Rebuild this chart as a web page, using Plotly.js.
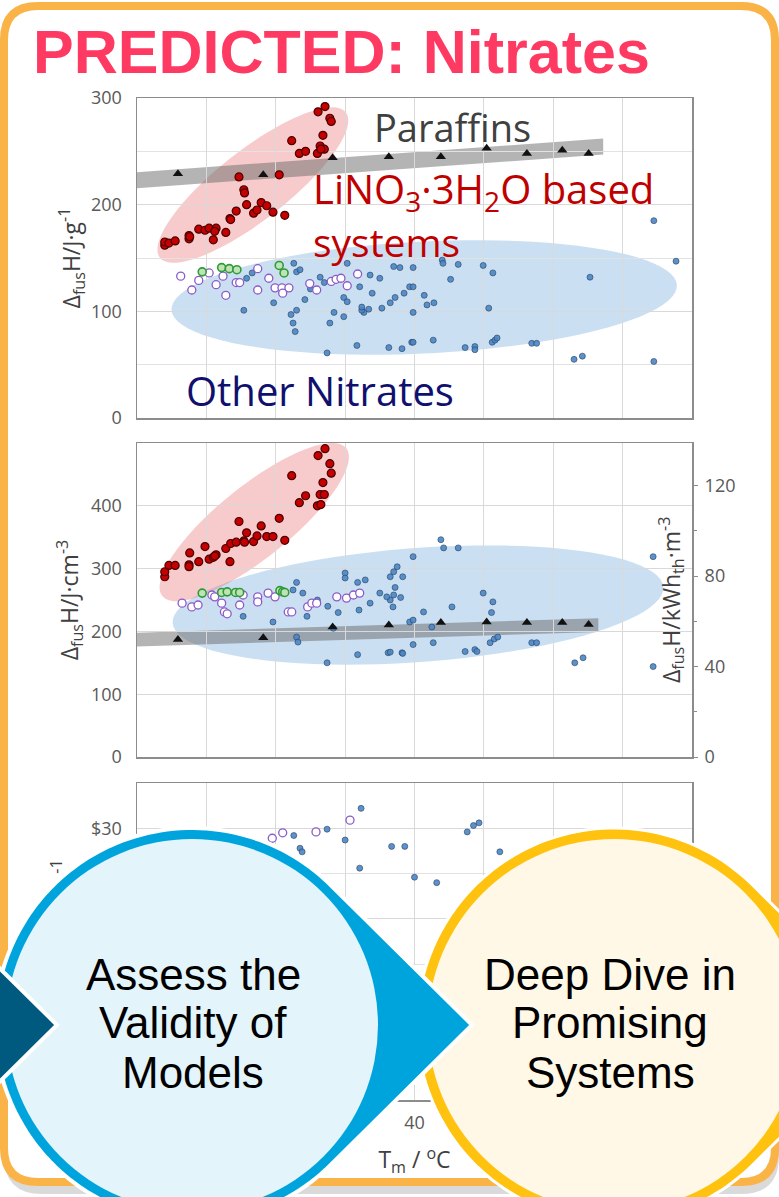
<!DOCTYPE html>
<html>
<head>
<meta charset="utf-8">
<script src="https://cdn.plot.ly/plotly-3.0.1.min.js"></script>
<style>
html,body{margin:0;padding:0;background:#fff;}
#wrap{position:relative;width:779px;height:1197px;overflow:hidden;}
#chart,#overlay{position:absolute;left:0;top:0;width:779px;height:1197px;}
#overlay{pointer-events:none;}
</style>
</head>
<body>
<div id="wrap"><div id="chart"></div><div id="overlay"></div></div>
<script>
// ---------------- DATA ----------------
// Paraffins (n-alkanes), melting temperature / enthalpy
const paraffinT  = [5.9, 18.2, 28.2, 36.3, 43.8, 50.4, 56.2, 61.3, 65.1];
const paraffinHg = [229, 228, 244, 245, 245, 253, 248, 251, 248];      // J/g
const paraffinHv = [187, 190, 207, 210, 214, 215, 214, 214, 211];      // J/cm3

// LiNO3·3H2O based systems
const liT  = [4.0,4.0,4.6,5.5,7.5,7.5,7.6,8.9,9.8,10.4,11.0,11.4,11.2,12.8,13.4,13.5,14.3,14.7,15.4,15.5,15.8,16.8,17.3,17.9,18.7,19.6,20.5,21.3,22.3,23.4,24.3,26.0,26.4,26.8,27.0,26.1,27.1,27.8,28.0,26.5];
const liHg = [162,165,164,166,168,171,170,177,176,178,167,178,175,174,187,186,194,226,214,211,200,192,195,202,199,193,228,190,260,248,250,248,255,265,252,287,292,281,278,252];
const liHv = [287,295,305,305,306,303,325,311,335,315,318,322,320,332,311,340,342,375,344,342,357,343,352,368,351,351,380,345,448,405,416,400,418,437,418,480,491,467,452,402];

// Other nitrates (open purple circles)
const purpleT1 = [6.3,8.9,7.9,10.4,11.4,12.4,12.8,14.3,14.8,17.4,17.4,19.0,19.9,20.9,21.9,21.0,24.9,25.9,28.0,28.7,29.4,30.3,31.8];
const purpleHg = [133,129,120,136,125,133,115,127,127,140,120,131,122,122,122,117,126,120,128,130,131,124,135];
const purpleT2 = [6.5,7.9,8.8,10.8,11.2,12.2,12.6,13.0,14.8,15.3,17.4,17.4,18.9,19.9,21.8,22.3,24.6,25.2,25.9,28.8,30.2,31.2,32.1];
const purpleHv = [245,239,242,258,255,245,231,228,242,258,255,247,261,255,231,231,239,245,245,255,253,258,261];

// Other nitrates (open green circles)
const greenT1 = [9.4,12.2,13.3,14.4,20.5,21.2];
const greenHg = [137,141,140,139,143,136];
const greenT2 = [9.4,12.2,13.0,14.2,14.8,20.6,21.0,21.3];
const greenHv = [261,262,263,262,262,265,263,262];

// Other nitrates (blue dots)
const otherT1 = [15.4,19.7,22.2,22.5,22.8,23.0,24.2,27.8,28.4,29.8,29.8,30.3,27.4,31.7,32.7,33.4,33.9,35.3,36.3,38.2,36.5,37.2,38.5,39.3,39.6,22.6,23.0,30.3,33.6,35.0,37.0,37.9,16.6,15.8,39.8,44.0,44.1,46.3,49.9,51.3,45.2,39.8,41.4,41.8,42.8,39.8,50.7,39.8,42.7,47.3,48.7,48.7,51.2,51.6,51.9,56.9,57.6,65.3,63.0,64.2,74.5,77.7,74.5,23.5,26.4,32.1,27.0,25.0,32.4,32.4];
const otherHg = [101,108,97,89,81,101,111,89,99,95,113,109,61,68,99,102,117,103,66,65,108,113,117,123,71,145,137,145,134,131,142,141,136,131,141,148,145,144,143,136,130,123,115,106,108,99,103,71,73,66,67,64,71,73,75,70,70,132,55,58,53,147,185,139,132,123,127,121,101,104];
const otherT2 = [15.3,19.6,24.5,23.0,23.2,27.4,31.8,36.2,38.2,30.0,30.0,31.8,32.9,36.5,37.5,38.3,32.0,33.6,36.9,36.5,35.0,36.0,28.3,39.8,43.8,44.2,46.3,49.9,37.0,37.2,37.0,38.0,41.3,45.4,51.3,51.1,39.3,39.8,42.5,36.5,38.3,39.8,42.7,47.3,48.7,49.0,50.9,51.5,52.0,56.9,57.6,63.1,64.3,74.4,74.4,22.5,23.9,23.0,26.0,27.5,29.0];
const otherHv = [224,215,224,191,183,150,163,166,166,293,285,278,282,287,303,287,234,245,239,250,261,255,205,319,346,333,333,261,295,270,258,254,231,239,247,230,215,218,207,167,165,179,182,168,171,168,182,188,191,182,182,150,158,319,144,266,261,278,250,240,230];

// Cost panel (visible points)
const costBlueT = [32.3,30.0,32.1,36.7,38.6,40.0,43.2,47.6,48.5,49.3,52.3,27.4,22.6,23.5,23.8];
const costBlue  = [32.2,28.7,25.6,28.0,28.0,24.6,24.0,29.6,30.3,30.6,27.4,29.9,29.2,27.8,27.4];
const costPurpleT = [30.7,25.8,21.0,19.5];
const costPurple  = [30.9,29.6,29.5,28.9];

// Tick labels / text
const tickVals1 = [0, 100, 200, 300];
const tickVals2 = [0, 100, 200, 300, 400];
const tickVals4 = [0, 40, 80, 120];
const tickVals3 = [0, 10, 20, 30];
const tickText3 = ['$0', '$10', '$20', '$30'];
const titleText = 'PREDICTED: Nitrates';
const step2Lines = ['Assess the','Validity of','Models'];
const step3Lines = ['Deep Dive in','Promising','Systems'];

// ---------------- GEOMETRY ----------------
const W = 779, H = 1197;
const PX0 = 137, PX1 = 692;
const P1 = [98, 418], P2 = [443, 757], P3 = [783, 1100];
const XR = [0, 80];
const fx = px => px / W, fy = py => 1 - py / H;
const yd = p => [1 - p[1] / H, 1 - p[0] / H];
const sx = (PX1 - PX0) / (XR[1] - XR[0]);
const sy1 = (P1[1] - P1[0]) / 300, sy2 = (P2[1] - P2[0]) / 500;

function ellipsePath(tc, hc, aPx, bPx, angDeg, sxx, syy) {
  const th = angDeg * Math.PI / 180; let s = '';
  for (let k = 0; k <= 90; k++) {
    const f = 2 * Math.PI * k / 90;
    const dx = aPx * Math.cos(f) * Math.cos(th) - bPx * Math.sin(f) * Math.sin(th);
    const dy = aPx * Math.cos(f) * Math.sin(th) + bPx * Math.sin(f) * Math.cos(th);
    s += (k ? 'L' : 'M') + (tc + dx / sxx).toFixed(3) + ',' + (hc + dy / syy).toFixed(3);
  }
  return s + 'Z';
}
function roundRectPaper(x0, y0, x1, y1, r) {
  const p = (x, y) => fx(x).toFixed(5) + ',' + fy(y).toFixed(5);
  return 'M' + p(x0 + r, y0) + 'L' + p(x1 - r, y0) + 'Q' + p(x1, y0) + ' ' + p(x1, y0 + r) +
    'L' + p(x1, y1 - r) + 'Q' + p(x1, y1) + ' ' + p(x1 - r, y1) + 'L' + p(x0 + r, y1) +
    'Q' + p(x0, y1) + ' ' + p(x0, y1 - r) + 'L' + p(x0, y0 + r) + 'Q' + p(x0, y0) + ' ' + p(x0 + r, y0) + 'Z';
}

const FONT = 'Open Sans, Noto Sans, sans-serif';
const tickFont = {family: FONT, size: 18, color: '#595959'};
const titleFont = {family: FONT, size: 23, color: '#404040'};
const axBase = {showline: true, mirror: true, linecolor: '#8c8c8c', linewidth: 1.5,
  gridcolor: '#d9d9d9', gridwidth: 1, zeroline: false, tickfont: tickFont, fixedrange: true};

// ---------------- TRACES ----------------
const mk = {
  blue:   {size: 6, color: 'rgba(74,134,196,0.9)', line: {color: 'rgba(40,62,95,0.75)', width: 0.8}},
  purple: {size: 8, color: '#ffffff', symbol: 'circle', line: {color: '#8a5cc7', width: 1.3}},
  green:  {size: 8, color: '#bfe3b4', line: {color: '#2f9a3a', width: 1.6}},
  red:    {size: 8, color: '#c40000', line: {color: '#4d0000', width: 1.2}},
  tri:    {size: 9, color: '#111111', symbol: 'triangle-up'}
};
function sc(x, y, m, xa, ya) { return {type: 'scatter', mode: 'markers', x: x, y: y, marker: m, xaxis: xa, yaxis: ya, hoverinfo: 'skip'}; }
const traces = [
  sc(otherT1, otherHg, mk.blue, 'x', 'y'),
  sc(purpleT1, purpleHg, mk.purple, 'x', 'y'),
  sc(greenT1, greenHg, mk.green, 'x', 'y'),
  sc(liT, liHg, mk.red, 'x', 'y'),
  sc(paraffinT, paraffinHg, mk.tri, 'x', 'y'),
  sc(otherT2, otherHv, mk.blue, 'x2', 'y2'),
  sc(purpleT2, purpleHv, mk.purple, 'x2', 'y2'),
  sc(greenT2, greenHv, mk.green, 'x2', 'y2'),
  sc(liT, liHv, mk.red, 'x2', 'y2'),
  sc(paraffinT, paraffinHv, mk.tri, 'x2', 'y2'),
  {type: 'scatter', mode: 'markers', x: [], y: [], xaxis: 'x2', yaxis: 'y4'},
  sc(costBlueT, costBlue, mk.blue, 'x3', 'y3'),
  sc(costPurpleT, costPurple, mk.purple, 'x3', 'y3')
];

// ---------------- SHAPES ----------------
const pinkFill = 'rgba(232,110,110,0.36)', blueFill = 'rgba(110,165,220,0.36)', bandFill = 'rgba(105,105,105,0.5)';
const shapes = [
  {type: 'path', xref: 'paper', yref: 'paper', layer: 'below', path: roundRectPaper(8, 12, 775, 1190, 34),
    line: {color: 'rgba(150,150,150,0.35)', width: 8}},
  {type: 'path', xref: 'paper', yref: 'paper', layer: 'below', path: roundRectPaper(4, 6, 775, 1182, 34),
    fillcolor: '#ffffff', line: {color: '#fab346', width: 8}},
  {type: 'path', xref: 'x', yref: 'y', layer: 'below', path: ellipsePath(41.4, 113, 253, 56, 2.8, sx, sy1), fillcolor: blueFill, line: {width: 0}},
  {type: 'path', xref: 'x', yref: 'y', layer: 'below', path: ellipsePath(16.7, 218.4, 118, 35, 38, sx, sy1), fillcolor: pinkFill, line: {width: 0}},
  {type: 'path', xref: 'x', yref: 'y', layer: 'below', path: 'M0,215.5L67.2,247L67.2,262L0,230.5Z', fillcolor: bandFill, line: {width: 0}},
  {type: 'path', xref: 'x2', yref: 'y2', layer: 'below', path: ellipsePath(40.5, 242, 246, 57, 4.2, sx, sy2), fillcolor: blueFill, line: {width: 0}},
  {type: 'path', xref: 'x2', yref: 'y2', layer: 'below', path: ellipsePath(16.9, 374, 118, 36, 38.8, sx, sy2), fillcolor: pinkFill, line: {width: 0}},
  {type: 'path', xref: 'x2', yref: 'y2', layer: 'below', path: 'M0,176L66.5,199L66.5,221L0,198Z', fillcolor: bandFill, line: {width: 0}}
];

// ---------------- ANNOTATIONS ----------------
const annFont = (size, color) => ({family: FONT, size: size, color: color});
const annotations = [
  {xref: 'paper', yref: 'paper', x: fx(341), y: fy(52), xanchor: 'center', yanchor: 'middle', showarrow: false,
    text: '<b>' + titleText + '</b>', font: {family: 'Liberation Sans, Arial, sans-serif', size: 61, color: '#ff3a62'}},
  {xref: 'paper', yref: 'paper', x: fx(453), y: fy(127), xanchor: 'center', yanchor: 'middle', showarrow: false,
    text: 'Paraffins', font: annFont(38, '#404040')},
  {xref: 'paper', yref: 'paper', x: fx(311), y: fy(190), xanchor: 'left', yanchor: 'middle', showarrow: false,
    text: 'LiNO<sub>3</sub>·3H<sub>2</sub>O based', font: annFont(40, '#c00000')},
  {xref: 'paper', yref: 'paper', x: fx(311), y: fy(241), xanchor: 'left', yanchor: 'middle', showarrow: false,
    text: 'systems', font: annFont(39, '#c00000')},
  {xref: 'paper', yref: 'paper', x: fx(320), y: fy(390), xanchor: 'center', yanchor: 'middle', showarrow: false,
    text: 'Other Nitrates', font: annFont(40, '#10106e')},
  {xref: 'paper', yref: 'paper', x: fx(671), y: fy(600), xanchor: 'center', yanchor: 'middle', showarrow: false, textangle: -90,
    text: 'Δ<sub>fus</sub>H/kWh<sub>th</sub>·m<sup>-3</sup>', font: titleFont}
];

const layout = {
  width: W, height: H, autosize: false, margin: {l: 0, r: 0, t: 0, b: 0, pad: 0},
  paper_bgcolor: '#ffffff', plot_bgcolor: 'rgba(0,0,0,0)', showlegend: false,
  xaxis:  Object.assign({}, axBase, {domain: [fx(PX0), fx(PX1)], range: XR, dtick: 10, anchor: 'y', showticklabels: false}),
  xaxis2: Object.assign({}, axBase, {domain: [fx(PX0), fx(PX1)], range: XR, dtick: 10, anchor: 'y2', showticklabels: false}),
  xaxis3: Object.assign({}, axBase, {domain: [fx(PX0), fx(PX1)], range: XR, dtick: 10, anchor: 'y3', showticklabels: true,
    ticklabelstandoff: 6, title: {text: 'T<sub>m</sub> / <sup>o</sup>C', font: titleFont, standoff: 19}}),
  yaxis:  Object.assign({}, axBase, {domain: yd(P1), range: [0, 300], tickmode: 'array', tickvals: tickVals1, anchor: 'x',
    minor: {dtick: 50, showgrid: true, gridcolor: '#e2e2e2'}, ticklabelstandoff: 10,
    title: {text: 'Δ<sub>fus</sub>H/J·g<sup>-1</sup>', font: titleFont, standoff: 4}}),
  yaxis2: Object.assign({}, axBase, {domain: yd(P2), range: [0, 500], tickmode: 'array', tickvals: tickVals2, anchor: 'x2', ticklabelstandoff: 10,
    title: {text: 'Δ<sub>fus</sub>H/J·cm<sup>-3</sup>', font: titleFont, standoff: 6}}),
  yaxis4: {overlaying: 'y2', anchor: 'x2', side: 'right', range: [0, 500 / 3.6], tickmode: 'array', tickvals: tickVals4, showgrid: false, zeroline: false,
    showline: false, ticks: 'outside', ticklen: 5, tickcolor: '#8c8c8c', tickfont: tickFont, ticklabelstandoff: 3,
    minor: {tickmode: 'linear', tick0: 0, dtick: 20, ticks: 'outside', ticklen: 4, tickcolor: '#8c8c8c'}, fixedrange: true},
  yaxis3: Object.assign({}, axBase, {domain: yd(P3), range: [0, 35], tickmode: 'array', tickvals: tickVals3, ticktext: tickText3, anchor: 'x3',
    minor: {tickmode: 'linear', tick0: 0, dtick: 5, showgrid: true, gridcolor: '#e2e2e2'}, ticklabelstandoff: 10,
    title: {text: 'Cost / $·kWh<sub>th</sub><sup>-1</sup>', font: titleFont, standoff: 12}}),
  shapes: shapes, annotations: annotations
};

Plotly.newPlot('chart', traces, layout, {staticPlot: true, displayModeBar: false});

// ---------------- OVERLAY (process circles) ----------------
function chevronPath(cx, cy, R, tipX) {
  const beta = Math.acos(R / (tipX - cx)); const n = 140; let s = '';
  for (let k = 0; k <= n; k++) {
    const th = -beta - k * (2 * Math.PI - 2 * beta) / n;
    s += (k ? 'L' : 'M') + (cx + R * Math.cos(th)).toFixed(1) + ',' + (cy + R * Math.sin(th)).toFixed(1);
  }
  return s + 'L' + tipX + ',' + cy + 'Z';
}
const CY = 1025, RO = 197, RI = 186, TIP = 280;
const blueC = 192, yellowC = 614, prevC = 57 - TIP;
const oShapes = [
  {type: 'path', xref: 'x', yref: 'y', path: chevronPath(yellowC, CY, RO, yellowC + TIP), fillcolor: '#ffc20e', line: {color: '#ffffff', width: 3}},
  {type: 'circle', xref: 'x', yref: 'y', x0: yellowC - RI, x1: yellowC + RI, y0: CY - RI, y1: CY + RI, fillcolor: '#fff8e6', line: {width: 0}},
  {type: 'path', xref: 'x', yref: 'y', path: chevronPath(blueC, CY, RO, blueC + TIP), fillcolor: '#00a4dc', line: {color: '#ffffff', width: 4}},
  {type: 'circle', xref: 'x', yref: 'y', x0: blueC - RI, x1: blueC + RI, y0: CY - RI, y1: CY + RI, fillcolor: '#e3f4fa', line: {width: 0}},
  {type: 'path', xref: 'x', yref: 'y', path: chevronPath(prevC, CY, RO, prevC + TIP), fillcolor: '#005a80', line: {color: '#ffffff', width: 4}}
];
const lineY = [974, 1022, 1072];
const oAnn = [];
step2Lines.forEach((t, i) => oAnn.push({x: 193, y: lineY[i], xref: 'x', yref: 'y', text: t, showarrow: false, xanchor: 'center', yanchor: 'middle',
  font: {family: 'Liberation Sans, Arial, sans-serif', size: 44, color: '#000000'}}));
step3Lines.forEach((t, i) => oAnn.push({x: 610, y: lineY[i], xref: 'x', yref: 'y', text: t, showarrow: false, xanchor: 'center', yanchor: 'middle',
  font: {family: 'Liberation Sans, Arial, sans-serif', size: 44, color: '#000000'}}));

Plotly.newPlot('overlay', [{type: 'scatter', x: [], y: []}], {
  width: W, height: H, autosize: false, margin: {l: 0, r: 0, t: 0, b: 0, pad: 0},
  paper_bgcolor: 'rgba(0,0,0,0)', plot_bgcolor: 'rgba(0,0,0,0)', showlegend: false,
  xaxis: {range: [0, W], visible: false, fixedrange: true},
  yaxis: {range: [H, 0], visible: false, fixedrange: true},
  shapes: oShapes, annotations: oAnn
}, {staticPlot: true, displayModeBar: false});
</script>
</body>
</html>
